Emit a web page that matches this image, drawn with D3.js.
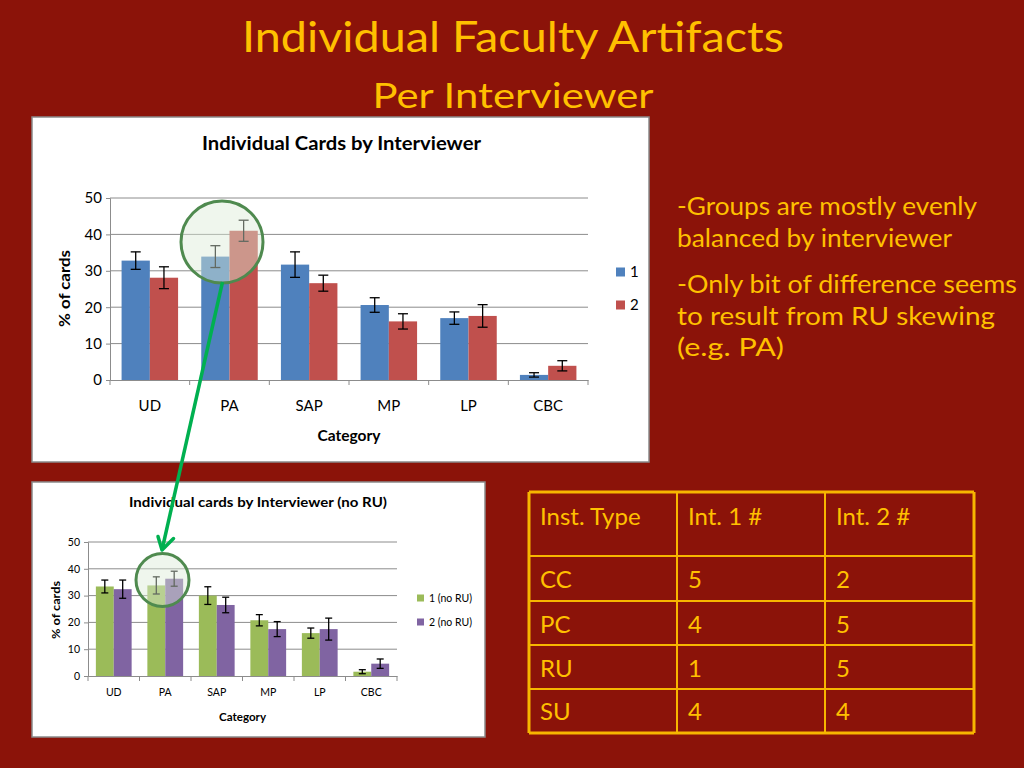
<!DOCTYPE html>
<html>
<head>
<meta charset="utf-8">
<script src="https://cdn.jsdelivr.net/npm/d3@7"></script>
<style>
  body { margin: 0; background: #8b1309; }
  svg { display: block; }
</style>
</head>
<body>
<div id="slide"></div>
<script>
// chart data
var categories = ["UD", "PA", "SAP", "MP", "LP", "CBC"];
var yTicks = [0, 10, 20, 30, 40, 50];

var int1 = [32.8, 33.9, 31.7, 20.6, 17.0, 1.4];
var int1Err = [2.4, 3.0, 3.5, 2.0, 1.7, 0.6];
var int2 = [28.1, 41.0, 26.6, 16.1, 17.6, 3.9];
var int2Err = [3.0, 2.9, 2.2, 2.1, 3.1, 1.4];

var int1NoRU = [33.4, 33.8, 30.0, 20.8, 16.0, 1.6];
var int1NoRUErr = [2.4, 3.2, 3.3, 2.1, 1.9, 0.75];
var int2NoRU = [32.4, 36.3, 26.5, 17.5, 17.5, 4.6];
var int2NoRUErr = [3.4, 2.8, 2.9, 2.8, 4.1, 1.75];

var tableHeader = ["Inst. Type", "Int. 1 #", "Int. 2 #"];
var instTypes = ["CC", "PC", "RU", "SU"];
var int1Counts = [5, 4, 1, 4];
var int2Counts = [2, 5, 5, 4];

var bullets = [
  "-Groups are mostly evenly",
  "balanced by interviewer",
  "-Only bit of difference seems",
  "to result from RU skewing",
  "(e.g. PA)"
];

var width = 1024;
var height = 768;
var gold = "#ffc000";
var font = "Lato, 'Open Sans', sans-serif";

var svg = d3.select("#slide").append("svg")
  .attr("width", width)
  .attr("height", height);

svg.append("rect").attr("width", width).attr("height", height).attr("fill", "#8b1309");

// slide title
svg.append("text")
  .attr("x", 513).attr("y", 52)
  .attr("text-anchor", "middle")
  .attr("font-family", font).attr("font-size", 42)
  .attr("fill", gold)
  .attr("textLength", 542).attr("lengthAdjust", "spacingAndGlyphs")
  .text("Individual Faculty Artifacts");
svg.append("text")
  .attr("x", 513).attr("y", 108)
  .attr("text-anchor", "middle")
  .attr("font-family", font).attr("font-size", 35)
  .attr("fill", gold)
  .attr("textLength", 281).attr("lengthAdjust", "spacingAndGlyphs")
  .text("Per Interviewer");

function drawChart(cfg) {
  var g = svg.append("g");

  g.append("rect")
    .attr("x", cfg.box[0]).attr("y", cfg.box[1])
    .attr("width", cfg.box[2]).attr("height", cfg.box[3])
    .attr("fill", "white")
    .attr("stroke", "#8a8a8a").attr("stroke-width", 1.5);

  var x = d3.scaleBand().domain(categories).range([cfg.plot[0], cfg.plot[1]]);
  var inner = d3.scaleBand().domain([0, 1])
    .range([0, x.bandwidth()]).paddingOuter(cfg.pad);
  var y = d3.scaleLinear().domain([0, 50]).range([cfg.plot[3], cfg.plot[2]]);

  // gridlines
  g.selectAll(".grid").data(yTicks.slice(1)).enter().append("line")
    .attr("x1", cfg.plot[0]).attr("x2", cfg.plot[1])
    .attr("y1", function(d){ return y(d); }).attr("y2", function(d){ return y(d); })
    .attr("stroke", "#8c8c8c").attr("stroke-width", 1);

  var yAxis = d3.axisLeft(y).tickValues(yTicks).tickSize(4).tickPadding(4);
  var ya = g.append("g").attr("transform", "translate(" + cfg.plot[0] + ",0)").call(yAxis);
  ya.selectAll("text").attr("font-family", font).attr("font-size", cfg.tickFont).attr("fill", "#000");
  ya.selectAll("line, path").attr("stroke", "#8c8c8c");

  var xAxis = d3.axisBottom(x).tickSize(0).tickPadding(cfg.catPad);
  var xa = g.append("g").attr("transform", "translate(0," + cfg.plot[3] + ")").call(xAxis);
  xa.selectAll("text").attr("font-family", font).attr("font-size", cfg.tickFont).attr("fill", "#000");
  xa.select("path").attr("stroke", "#8c8c8c");
  // tick marks on category boundaries
  xa.selectAll(".sep").data(d3.range(categories.length + 1)).enter().append("line")
    .attr("x1", function(i){ return cfg.plot[0] + i * x.step(); })
    .attr("x2", function(i){ return cfg.plot[0] + i * x.step(); })
    .attr("y1", 0).attr("y2", 5)
    .attr("stroke", "#8c8c8c");

  cfg.series.forEach(function(s, si) {
    g.selectAll(".bar" + si).data(s.values).enter().append("rect")
      .attr("x", function(d, i){ return x(categories[i]) + inner(si); })
      .attr("width", inner.bandwidth())
      .attr("y", function(d){ return y(d); })
      .attr("height", function(d){ return y(0) - y(d); })
      .attr("fill", s.color);

    s.errs.forEach(function(e, i) {
      var cx = x(categories[i]) + inner(si) + inner.bandwidth() / 2;
      var top = y(s.values[i] + e), bot = y(s.values[i] - e);
      var eb = g.append("g").attr("stroke", "#000").attr("stroke-width", 1.3);
      eb.append("line").attr("x1", cx).attr("x2", cx).attr("y1", top).attr("y2", bot);
      eb.append("line").attr("x1", cx - cfg.cap).attr("x2", cx + cfg.cap).attr("y1", top).attr("y2", top);
      eb.append("line").attr("x1", cx - cfg.cap).attr("x2", cx + cfg.cap).attr("y1", bot).attr("y2", bot);
    });

    // legend
    g.append("rect")
      .attr("x", cfg.legend[0]).attr("y", cfg.legend[1] + si * cfg.legend[2] - cfg.legSq / 2)
      .attr("width", cfg.legSq).attr("height", cfg.legSq)
      .attr("fill", s.color);
    g.append("text")
      .attr("x", cfg.legend[0] + cfg.legSq + 5).attr("y", cfg.legend[1] + si * cfg.legend[2])
      .attr("dy", "0.35em")
      .attr("font-family", font).attr("font-size", cfg.legFont)
      .text(s.name);
  });

  g.append("text")
    .attr("x", cfg.title[0]).attr("y", cfg.title[1])
    .attr("text-anchor", "middle")
    .attr("font-family", font).attr("font-weight", "bold").attr("font-size", cfg.titleFont)
    .attr("textLength", cfg.title[2]).attr("lengthAdjust", "spacingAndGlyphs")
    .text(cfg.titleText);

  g.append("text")
    .attr("x", (cfg.plot[0] + cfg.plot[1]) / 2).attr("y", cfg.xLabel[0])
    .attr("text-anchor", "middle")
    .attr("font-family", font).attr("font-weight", "bold").attr("font-size", cfg.labelFont)
    .attr("textLength", cfg.xLabel[1]).attr("lengthAdjust", "spacingAndGlyphs")
    .text("Category");

  g.append("text")
    .attr("transform", "translate(" + cfg.yLabel[0] + "," + cfg.yLabel[1] + ") rotate(-90)")
    .attr("text-anchor", "middle")
    .attr("font-family", font).attr("font-weight", "bold").attr("font-size", cfg.labelFont)
    .attr("textLength", cfg.yLabel[2]).attr("lengthAdjust", "spacingAndGlyphs")
    .text("% of cards");
}

drawChart({
  box: [32, 117, 617, 345],
  plot: [110, 588, 198, 380],
  pad: 0.41,
  cap: 5,
  tickFont: 15,
  catPad: 20,
  titleText: "Individual Cards by Interviewer",
  title: [341.5, 150, 279],
  titleFont: 18,
  xLabel: [441, 63],
  labelFont: 15,
  yLabel: [70, 288.5, 77],
  legend: [616, 272, 33],
  legSq: 9,
  legFont: 15,
  series: [
    { name: "1", values: int1, errs: int1Err, color: "#4f81bd" },
    { name: "2", values: int2, errs: int2Err, color: "#c0504d" }
  ]
});

drawChart({
  box: [32, 482, 453, 255],
  plot: [88, 397, 542, 676],
  pad: 0.44,
  cap: 3.5,
  tickFont: 10.5,
  catPad: 13,
  titleText: "Individual cards by Interviewer (no RU)",
  title: [258, 507, 258],
  titleFont: 13,
  xLabel: [721, 47],
  labelFont: 11,
  yLabel: [60, 610, 58],
  legend: [417, 598, 24],
  legSq: 7,
  legFont: 10.5,
  series: [
    { name: "1 (no RU)", values: int1NoRU, errs: int1NoRUErr, color: "#9bbb59" },
    { name: "2 (no RU)", values: int2NoRU, errs: int2NoRUErr, color: "#8064a2" }
  ]
});

// highlight circles
[[222, 242, 41], [162.5, 580, 26.5]].forEach(function(c) {
  svg.append("circle")
    .attr("cx", c[0]).attr("cy", c[1]).attr("r", c[2])
    .attr("fill", "#dcebd6").attr("fill-opacity", 0.45)
    .attr("stroke", "#4f8a4f").attr("stroke-width", 3);
});

// green arrow
var arrowStart = [222.5, 282], arrowEnd = [162, 550];
svg.append("line")
  .attr("x1", arrowStart[0]).attr("y1", arrowStart[1])
  .attr("x2", arrowEnd[0]).attr("y2", arrowEnd[1])
  .attr("stroke", "#00b050").attr("stroke-width", 3.5);
svg.append("path")
  .attr("d", "M158,536.5 L" + arrowEnd[0] + "," + arrowEnd[1] + " L173.5,538.5")
  .attr("fill", "none")
  .attr("stroke", "#00b050").attr("stroke-width", 3.5)
  .attr("stroke-linecap", "round").attr("stroke-linejoin", "round");

// bullet text
var bulletY = [215, 247, 293, 325, 356];
var bulletW = [300, 275, 340, 318, 107];
bullets.forEach(function(t, i) {
  svg.append("text")
    .attr("x", 677).attr("y", bulletY[i])
    .attr("font-family", font).attr("font-size", 25)
    .attr("fill", gold)
    .attr("textLength", bulletW[i]).attr("lengthAdjust", "spacingAndGlyphs")
    .text(t);
});

// table
var colX = [529, 677, 825, 974];
var rowY = [492, 556, 601, 645, 689, 733];
var tbl = svg.append("g");
colX.forEach(function(cx, i) {
  tbl.append("line").attr("x1", cx).attr("x2", cx).attr("y1", rowY[0]).attr("y2", rowY[rowY.length - 1])
    .attr("stroke", "#f7b600").attr("stroke-width", (i === 0 || i === colX.length - 1) ? 3 : 2);
});
rowY.forEach(function(ry, i) {
  tbl.append("line").attr("x1", colX[0]).attr("x2", colX[colX.length - 1]).attr("y1", ry).attr("y2", ry)
    .attr("stroke", "#f7b600").attr("stroke-width", (i === 0 || i === rowY.length - 1) ? 3 : 2);
});
var rows = [tableHeader].concat(instTypes.map(function(t, i) {
  return [t, String(int1Counts[i]), String(int2Counts[i])];
}));
var textY = [525, 588, 633, 677, 720];
rows.forEach(function(r, ri) {
  r.forEach(function(cell, ci) {
    tbl.append("text")
      .attr("x", colX[ci] + 11).attr("y", textY[ri])
      .attr("font-family", font).attr("font-size", 24)
      .attr("fill", gold)
      .text(cell);
  });
});
</script>
</body>
</html>
